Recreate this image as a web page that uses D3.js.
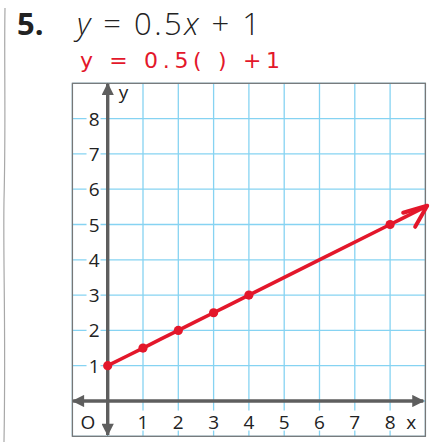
<!DOCTYPE html>
<html>
<head>
<title>y = 0.5x + 1</title>
<style>
  html, body { margin:0; padding:0; background:#fff; }
  svg { display:block; }
</style>
<script src="https://d3js.org/d3.v7.min.js"></script>
</head>
<body>
<svg id="chart"></svg>
<script>
// values
var xTicks = [1, 2, 3, 4, 5, 6, 7, 8];
var yTicks = [1, 2, 3, 4, 5, 6, 7, 8];
var gridVals = [-1, 0, 1, 2, 3, 4, 5, 6, 7, 8, 9];
var plotted = [[0, 1], [1, 1.5], [2, 2], [3, 2.5], [4, 3], [8, 5]];
var arrowTip = [9.05, 5.53];

var width = 435, height = 442;
var svg = d3.select("#chart").attr("width", width).attr("height", height);

var x = d3.scaleLinear().domain([-1, 9]).range([72.4, 425.4]);
var y = d3.scaleLinear().domain([-1, 9]).range([436.3, 83.3]);

var red = "#e3172b", axisGrey = "#5e5e5e", gridBlue = "#86d3f2";

// page edge on the left
svg.append("path")
  .attr("d", "M5,8 C4,60 6,120 4,200 C3,260 6,330 4,442")
  .attr("fill", "none").attr("stroke", "#a8a8a8").attr("stroke-width", 1.2);

// header
svg.append("text").attr("x", 17).attr("y", 35)
  .style("font-family", "Open Sans").style("font-weight", 700).style("font-size", "31px")
  .attr("fill", "#222").text("5.");
var eq = svg.append("text").attr("x", 77).attr("y", 35)
  .attr("textLength", 183).attr("lengthAdjust", "spacing")
  .style("font-family", "Open Sans").style("font-weight", 300).style("font-size", "31px").attr("fill", "#222");
eq.append("tspan").style("font-style", "italic").text("y");
eq.append("tspan").text(" = 0.5");
eq.append("tspan").style("font-style", "italic").text("x");
eq.append("tspan").text(" + 1");

// handwritten line
svg.append("text").attr("x", 80).attr("y", 68)
  .style("font-family", "DejaVu Sans").style("font-size", "22px")
  .attr("fill", red).attr("textLength", 200)
  .text("y = 0.5( ) +1");

// grid
var grid = svg.append("g").attr("stroke", gridBlue).attr("stroke-width", 1.3);
grid.selectAll(".gv").data(gridVals).enter().append("line")
  .attr("x1", d => x(d)).attr("x2", d => x(d))
  .attr("y1", y(9)).attr("y2", y(-1));
grid.selectAll(".gh").data(gridVals).enter().append("line")
  .attr("x1", x(-1)).attr("x2", x(9))
  .attr("y1", d => y(d)).attr("y2", d => y(d));

svg.append("rect")
  .attr("x", x(-1)).attr("y", y(9))
  .attr("width", x(9) - x(-1)).attr("height", y(-1) - y(9))
  .attr("fill", "none").attr("stroke", "#777").attr("stroke-width", 1.3);

// tick labels with white knock-out
var labelFont = "Open Sans";
var yl = svg.append("g");
yTicks.forEach(function(v) {
  yl.append("rect").attr("x", x(-0.6)).attr("y", y(v) - 9)
    .attr("width", 14).attr("height", 18).attr("fill", "#fff");
  yl.append("text").attr("x", x(-0.38)).attr("y", y(v) + 7)
    .attr("text-anchor", "middle")
    .style("font-family", labelFont).style("font-size", "19px").attr("fill", "#222")
    .text(v);
});
var xl = svg.append("g");
var labBase = y(-0.78);
xTicks.forEach(function(v) {
  xl.append("rect").attr("x", x(v) - 7).attr("y", labBase - 18)
    .attr("width", 14).attr("height", 20).attr("fill", "#fff");
  xl.append("text").attr("x", x(v)).attr("y", labBase)
    .attr("text-anchor", "middle")
    .style("font-family", labelFont).style("font-size", "19px").attr("fill", "#222")
    .text(v);
});
svg.append("text").attr("x", x(-0.56)).attr("y", labBase).attr("text-anchor", "middle")
  .style("font-family", labelFont).style("font-size", "19px").attr("fill", "#222").text("O");
svg.append("rect").attr("x", x(8.4)).attr("y", labBase - 18)
  .attr("width", 14).attr("height", 20).attr("fill", "#fff");
svg.append("text").attr("x", x(8.6)).attr("y", labBase).attr("text-anchor", "middle")
  .style("font-family", labelFont).style("font-size", "19px").attr("fill", "#222").text("x");
svg.append("rect").attr("x", x(0.25)).attr("y", y(8.95))
  .attr("width", 14).attr("height", 17).attr("fill", "#fff");
svg.append("text").attr("x", x(0.45)).attr("y", y(8.55)).attr("text-anchor", "middle")
  .style("font-family", labelFont).style("font-size", "19px").attr("fill", "#222").text("y");

// axes with arrowheads
var defs = svg.append("defs");
defs.append("marker").attr("id", "ax").attr("viewBox", "0 0 10 10")
  .attr("refX", 9).attr("refY", 5).attr("markerWidth", 4.2).attr("markerHeight", 3.6)
  .attr("orient", "auto-start-reverse")
  .append("path").attr("d", "M0,0 L10,5 L0,10 Z").attr("fill", axisGrey);

svg.append("line")
  .attr("x1", x(-0.98)).attr("x2", x(8.94)).attr("y1", y(0)).attr("y2", y(0))
  .attr("stroke", axisGrey).attr("stroke-width", 3.4)
  .attr("marker-start", "url(#ax)").attr("marker-end", "url(#ax)");
svg.append("line")
  .attr("x1", x(0)).attr("x2", x(0)).attr("y1", y(-0.96)).attr("y2", y(8.98))
  .attr("stroke", axisGrey).attr("stroke-width", 3.4)
  .attr("marker-start", "url(#ax)").attr("marker-end", "url(#ax)");

// red line through plotted points
var linePts = plotted.concat([arrowTip]);
svg.append("path")
  .attr("d", d3.line().x(d => x(d[0])).y(d => y(d[1])).curve(d3.curveCatmullRom)(linePts))
  .attr("fill", "none").attr("stroke", red).attr("stroke-width", 3.6)
  .attr("stroke-linecap", "round").attr("stroke-linejoin", "round");

// arrowhead chevron
var tx = x(arrowTip[0]), ty = y(arrowTip[1]);
svg.append("path")
  .attr("d", "M" + (tx - 24) + "," + (ty + 7) + " L" + tx + "," + ty + " L" + (tx - 12) + "," + (ty + 21))
  .attr("fill", "none").attr("stroke", red).attr("stroke-width", 4)
  .attr("stroke-linecap", "round").attr("stroke-linejoin", "round");

svg.selectAll(".pt").data(plotted).enter().append("circle")
  .attr("cx", d => x(d[0])).attr("cy", d => y(d[1])).attr("r", 4.6)
  .attr("fill", red);
</script>
</body>
</html>
